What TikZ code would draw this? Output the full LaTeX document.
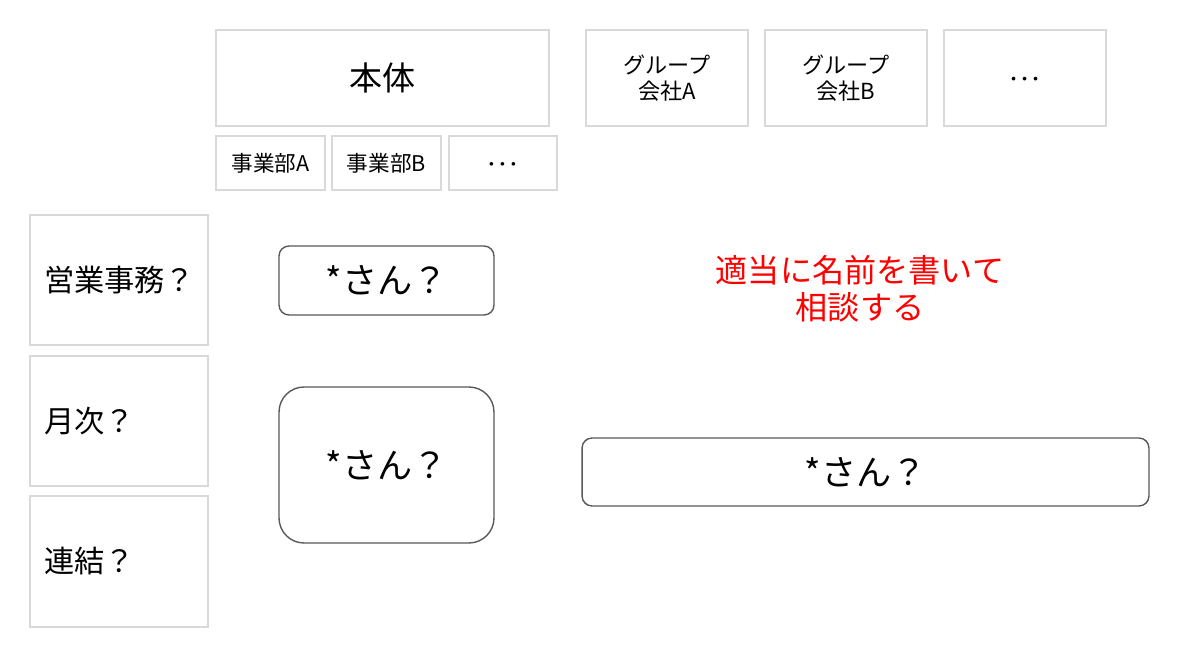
\documentclass[tikz,border=0pt]{standalone}
\usepackage{fontspec}
\setmainfont{Noto Sans CJK JP}
\definecolor{lightbd}{HTML}{D9D9D9}
\definecolor{darkbd}{HTML}{595959}
\definecolor{redtext}{HTML}{FF0000}
\tikzset{
  graybox/.style={draw=lightbd, line width=0.8pt, rectangle, inner sep=0pt, align=center},
  dotsbox/.style={graybox, text height=10.8pt, text depth=0pt},
  leftbox/.style={draw=lightbd, line width=0.8pt, rectangle, inner sep=0pt, minimum width=3.56cm, text width=3.56cm-0.56cm, align=left, font=\fontsize{17.2}{20}\selectfont},
  roundbox/.style={draw=darkbd, line width=0.8pt, rectangle, rounded corners=0.2cm, inner sep=0pt, font=\fontsize{20}{24}\selectfont},
}
\begin{document}
\begin{tikzpicture}[x=0.02cm, y=-0.02cm]
\useasboundingbox[fill=white] (0,0) rectangle (1200,665);
% top boxes
\node[graybox, minimum width=6.66cm, minimum height=1.92cm, font=\fontsize{18.8}{22}\selectfont] (hontai) at (382.5,78) {本体};
\node[graybox, minimum width=2.18cm, minimum height=1.08cm, font=\fontsize{12.3}{14}\selectfont] (jigyoA) at (270.5,163) {事業部A};
\node[graybox, minimum width=2.18cm, minimum height=1.08cm, font=\fontsize{12.3}{14}\selectfont] (jigyoB) at (386.5,163) {事業部B};
\node[dotsbox, minimum width=2.16cm, minimum height=1.08cm, font=\fontsize{12.3}{14}\selectfont] (dots1) at (503,163) {･･･};
\node[graybox, minimum width=3.24cm, minimum height=1.92cm, font=\fontsize{12.6}{14.8}\selectfont] (groupA) at (667,78) {グループ\\会社A};
\node[graybox, minimum width=3.24cm, minimum height=1.92cm, font=\fontsize{12.6}{14.8}\selectfont] (groupB) at (846,78) {グループ\\会社B};
\node[dotsbox, minimum width=3.24cm, minimum height=1.92cm, font=\fontsize{12.6}{14.8}\selectfont] (dots2) at (1025,78) {･･･};
% left boxes
\node[leftbox, minimum height=2.6cm] (eigyo) at (119,280) {営業事務？};
\node[leftbox, minimum height=2.6cm] (getsuji) at (119,421) {月次？};
\node[leftbox, minimum height=2.62cm] (renketsu) at (119,561.5) {連結？};
% person boxes
\node[roundbox, minimum width=4.3cm, minimum height=1.38cm] (san1) at (386.5,280.5) {*さん？};
\node[roundbox, rounded corners=0.5cm, minimum width=4.3cm, minimum height=3.12cm] (san2) at (386.5,465) {*さん？};
\node[roundbox, minimum width=11.34cm, minimum height=1.36cm] (san3) at (865.5,472) {*さん？};
% red note
\node[text=redtext, align=center, font=\fontsize{18.3}{21}\selectfont] (note) at (860,289) {適当に名前を書いて\\相談する};
\end{tikzpicture}
\end{document}
